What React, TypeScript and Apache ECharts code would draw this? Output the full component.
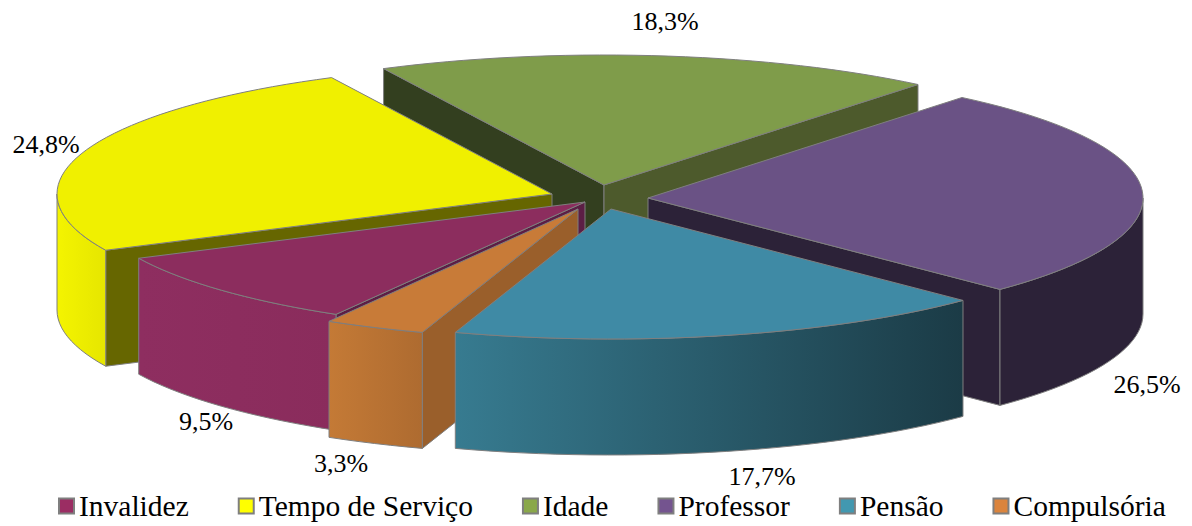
import React, { useEffect, useRef } from "react";
import * as echarts from "echarts";

const categories = ["Invalidez", "Tempo de Serviço", "Idade", "Professor", "Pensão", "Compulsória"];
const values = [9.5, 24.8, 18.3, 26.5, 17.7, 3.3];

const topColors = ["#8C2D5E", "#F0F000", "#7F9C4A", "#6A5285", "#3F8AA5", "#C87B38"];
const legendColors = ["#9B2D63", "#FFFF00", "#8AA84A", "#74548F", "#4298B0", "#DB843D"];
const startWallColors = ["#5C1E45", "#666600", "#333F1F", "#2C2238", "#2C6272", "#9A5F2B"];
const endWallColors = ["#5C1E45", "#666600", "#4D5A2C", "#2C2238", "#2C6272", "#9A5F2B"];
const outerStops: [string, string][] = [
  ["#8E2E60", "#8A2C5C"],
  ["#F4F400", "#E6E600"],
  ["#4D5A2C", "#4D5A2C"],
  ["#2C2238", "#2C2238"],
  ["#377B90", "#1B3B46"],
  ["#C47A36", "#AE6B30"],
];
const apexes: [number, number][] = [
  [585, 202],
  [552, 194],
  [604, 185],
  [648, 198],
  [611, 209],
  [578, 209],
];
const paintOrder = [2, 1, 3, 0, 5, 4];
const labelCenters: [number, number][] = [
  [206, 421],
  [46, 144],
  [665, 21],
  [1147, 384],
  [762, 476],
  [341, 463],
];

const RX = 495;
const RY = 130;
const DEPTH = 116;
const START_DEG = 210.2;
const STROKE = "#7F7F7F";

const total = values.reduce((a, b) => a + b, 0);
const rad = (d: number) => (d * Math.PI) / 180;

function arc(ax: number, ay: number, a0: number, a1: number, dy = 0): number[][] {
  const n = Math.max(2, Math.ceil(Math.abs(a1 - a0) / 2));
  const out: number[][] = [];
  for (let i = 0; i <= n; i++) {
    const a = rad(a0 + ((a1 - a0) * i) / n);
    out.push([ax + RX * Math.sin(a), ay - RY * Math.cos(a) + dy]);
  }
  return out;
}

function wall(ax: number, ay: number, a: number, fill: string) {
  const p = arc(ax, ay, a, a)[0];
  return {
    type: "polygon",
    shape: { points: [[ax, ay], p, [p[0], p[1] + DEPTH], [ax, ay + DEPTH]] },
    style: { fill, stroke: STROKE, lineWidth: 1 },
  };
}

function makeRenderItem(index: number) {
  return (_params: any, api: any) => {
    const before = values.slice(0, index).reduce((a, b) => a + b, 0);
    let a0 = START_DEG + (before / total) * 360;
    if (a0 >= 360) a0 -= 360;
    const a1 = a0 + (api.value(0) / total) * 360;
    const [ax, ay] = apexes[index];
    const children: any[] = [];
    // a radial wall shows only when it faces the viewer
    if (Math.sin(rad(a0)) < 0) children.push(wall(ax, ay, a0, startWallColors[index]));
    if (Math.sin(rad(a1)) > 0) children.push(wall(ax, ay, a1, endWallColors[index]));
    // the outer wall is visible only on the front half of the ellipse
    const from = Math.max(a0, 90);
    const to = Math.min(a1, 270);
    if (to > from) {
      const upper = arc(ax, ay, from, to);
      const lower = arc(ax, ay, from, to, DEPTH).reverse();
      children.push({
        type: "polygon",
        shape: { points: [...upper, ...lower] },
        style: {
          fill: new echarts.graphic.LinearGradient(0, 0, 1, 0, [
            { offset: 0, color: outerStops[index][0] },
            { offset: 1, color: outerStops[index][1] },
          ]),
          stroke: STROKE,
          lineWidth: 1,
        },
      });
    }
    children.push({
      type: "polygon",
      shape: { points: [[ax, ay], ...arc(ax, ay, a0, a1)] },
      style: { fill: topColors[index], stroke: STROKE, lineWidth: 1 },
    });
    return { type: "group", children };
  };
}

const FONT = "'Liberation Serif', 'Times New Roman', serif";

export default function App() {
  const ref = useRef<HTMLDivElement>(null);
  useEffect(() => {
    document.body.style.margin = "0";
    const chart = echarts.init(ref.current!, undefined, { renderer: "svg" });
    chart.setOption({
      animation: false,
      backgroundColor: "#ffffff",
      legend: {
        left: 58,
        top: 491,
        padding: 0,
        itemWidth: 15,
        itemHeight: 15,
        itemGap: 49,
        icon: "rect",
        selectedMode: false,
        textStyle: { fontFamily: FONT, fontSize: 29.5, color: "#000000" },
        data: categories.map((name, i) => ({
          name,
          itemStyle: { color: legendColors[i], borderColor: "#7F7F7F", borderWidth: 2 },
        })),
      },
      graphic: values.map((v, i) => ({
        type: "text",
        x: labelCenters[i][0],
        y: labelCenters[i][1],
        z: 100,
        style: {
          text: v.toFixed(1).replace(".", ",") + "%",
          fontFamily: FONT,
          fontSize: 26,
          fill: "#000000",
          textAlign: "center",
          textVerticalAlign: "middle",
        },
      })),
      series: paintOrder.map((i, order) => ({
        type: "custom",
        name: categories[i],
        coordinateSystem: "none",
        z: 2 + order,
        silent: true,
        itemStyle: { color: legendColors[i] },
        data: [[values[i]]],
        renderItem: makeRenderItem(i),
      })),
    });
    return () => chart.dispose();
  }, []);
  return <div ref={ref} style={{ width: 1192, height: 526 }} />;
}
